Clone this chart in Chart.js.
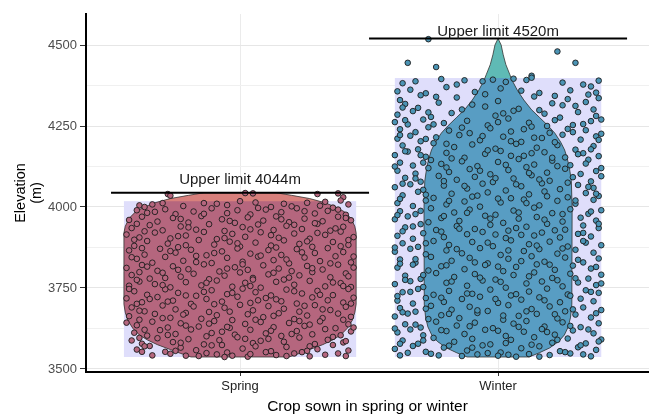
<!DOCTYPE html>
<html>
<head>
<meta charset="utf-8">
<script src="https://cdn.jsdelivr.net/npm/chart.js@4.4.1/dist/chart.umd.min.js"></script>
<style>
  body { margin: 0; background: #fff; }
  #wrap { width: 649px; height: 414px; }
</style>
</head>
<body>
<div id="wrap"><canvas id="grafik" width="649" height="414"></canvas></div>
<script>
// ======================
// DATA
// ======================

const categories = ["Spring", "Winter"];
const yTicks = [3500, 3625, 3750, 3875, 4000, 4125, 4250, 4375, 4500];
const upperLimits = [4044, 4520];
const limitLabelY = [4085, 4542];

// shaded box behind each violin
const boxTop = [4018, 4398];
const boxBottom = [3537, 3537];
const boxHalf = [0.45, 0.40];

// violin outline: elevation and half width
const springViolinY = [4044, 4036, 4026, 4013, 4000, 3985, 3965, 3940, 3920, 3800, 3700, 3675, 3650, 3625, 3605, 3590, 3575, 3560, 3548, 3537];
const springViolinW = [0.14, 0.20, 0.27, 0.33, 0.37, 0.405, 0.43, 0.445, 0.45, 0.45, 0.45, 0.445, 0.435, 0.415, 0.39, 0.36, 0.32, 0.27, 0.23, 0.19];
const winterViolinY = [4520, 4500, 4470, 4440, 4410, 4390, 4360, 4330, 4300, 4277, 4250, 4228, 4200, 4176, 4150, 4124, 4080, 4000, 3700, 3660, 3630, 3605, 3585, 3565, 3550, 3537];
const winterViolinW = [0.0, 0.012, 0.02, 0.03, 0.045, 0.055, 0.075, 0.10, 0.13, 0.16, 0.195, 0.22, 0.243, 0.258, 0.268, 0.276, 0.284, 0.287, 0.286, 0.281, 0.272, 0.257, 0.235, 0.2, 0.16, 0.12];

const springPoints = [
[0.72,4040],[0.73,4035],[1.02,4043],[1.05,4042],[1.30,4040],[1.38,4042],[1.40,4030],[1.39,4020],
[0.61,4005],[0.63,4000],[0.66,4008],[0.78,4003],[0.86,4012],[0.91,4010],[1.00,4018],[1.06,4014],[1.12,4000],[1.20,4002],[1.26,4013],[1.31,4004],[1.36,3998],[1.42,4008],
[0.60,3990],[0.64,3982],[0.71,3993],[0.75,3978],[0.82,3986],[0.89,3996],[0.95,3981],[0.99,3990],[1.04,3977],[1.10,3992],[1.16,3984],[1.22,3996],[1.29,3980],[1.34,3988],[1.41,3976],
[0.57,3960],[0.62,3970],[0.68,3955],[0.74,3966],[0.80,3952],[0.85,3972],[0.93,3962],[0.98,3951],[1.03,3968],[1.09,3958],[1.14,3971],[1.19,3953],[1.25,3964],[1.32,3956],[1.38,3970],[1.43,3959],
[0.58,3935],[0.65,3944],[0.70,3928],[0.77,3940],[0.83,3930],[0.88,3947],[0.94,3926],[1.01,3938],[1.07,3946],[1.13,3929],[1.18,3942],[1.24,3932],[1.30,3948],[1.35,3927],[1.40,3939],
[0.56,3915],[0.61,3906],[0.67,3921],[0.73,3903],[0.79,3912],[0.86,3923],[0.91,3901],[0.97,3917],[1.02,3908],[1.08,3922],[1.15,3905],[1.21,3918],[1.27,3902],[1.33,3914],[1.39,3924],[1.44,3907],
[0.59,3880],[0.64,3895],[0.72,3887],[0.76,3876],[0.84,3898],[0.90,3884],[0.96,3893],[1.00,3878],[1.06,3890],[1.12,3881],[1.17,3897],[1.23,3886],[1.28,3877],[1.36,3892],[1.42,3883],
[0.57,3866],[0.63,3853],[0.69,3871],[0.75,3859],[0.81,3868],[0.87,3851],[0.93,3863],[0.99,3872],[1.04,3856],[1.11,3867],[1.16,3852],[1.22,3870],[1.29,3858],[1.34,3873],[1.40,3861],
[0.60,3840],[0.66,3828],[0.71,3846],[0.78,3834],[0.83,3849],[0.89,3827],[0.95,3843],[1.01,3831],[1.07,3847],[1.13,3836],[1.19,3826],[1.25,3844],[1.31,3833],[1.37,3848],[1.43,3829],
[0.56,3812],[0.62,3821],[0.68,3803],[0.74,3817],[0.80,3808],[0.86,3823],[0.92,3801],[0.98,3814],[1.03,3806],[1.09,3820],[1.15,3810],[1.20,3802],[1.26,3818],[1.32,3807],[1.38,3822],[1.44,3813],
[0.58,3790],[0.65,3779],[0.70,3797],[0.77,3785],[0.82,3794],[0.88,3777],[0.94,3788],[1.00,3798],[1.05,3781],[1.11,3792],[1.17,3776],[1.23,3789],[1.28,3799],[1.35,3783],[1.41,3795],
[0.57,3757],[0.61,3770],[0.67,3762],[0.73,3752],[0.79,3768],[0.85,3758],[0.91,3773],[0.97,3754],[1.02,3766],[1.08,3751],[1.14,3769],[1.21,3760],[1.27,3772],[1.33,3755],[1.39,3765],[1.43,3753],
[0.59,3740],[0.64,3729],[0.71,3746],[0.76,3735],[0.83,3726],[0.89,3743],[0.95,3731],[1.01,3748],[1.06,3737],[1.12,3727],[1.18,3745],[1.24,3733],[1.30,3741],[1.36,3728],[1.42,3747],
[0.56,3718],[0.62,3706],[0.68,3722],[0.74,3711],[0.81,3701],[0.87,3716],[0.93,3708],[0.99,3723],[1.04,3704],[1.10,3719],[1.16,3709],[1.22,3702],[1.28,3721],[1.34,3712],[1.40,3705],[1.44,3720],
[0.58,3690],[0.63,3678],[0.70,3696],[0.75,3684],[0.82,3693],[0.88,3676],[0.94,3689],[1.00,3698],[1.05,3681],[1.11,3694],[1.17,3686],[1.23,3677],[1.29,3697],[1.35,3682],[1.41,3692],
[0.57,3663],[0.61,3652],[0.67,3670],[0.73,3658],[0.79,3673],[0.85,3655],[0.91,3666],[0.97,3651],[1.03,3669],[1.09,3660],[1.15,3672],[1.21,3654],[1.26,3665],[1.32,3657],[1.38,3671],[1.43,3661],
[0.60,3635],[0.66,3646],[0.72,3628],[0.77,3641],[0.84,3631],[0.90,3648],[0.96,3627],[1.02,3639],[1.08,3645],[1.13,3629],[1.19,3642],[1.25,3633],[1.31,3647],[1.37,3626],[1.42,3638],
[0.59,3612],[0.64,3603],[0.69,3620],[0.75,3608],[0.81,3622],[0.87,3601],[0.93,3615],[0.98,3606],[1.04,3621],[1.10,3610],[1.16,3602],[1.22,3617],[1.28,3607],[1.33,3623],[1.39,3604],[1.43,3616],
[0.58,3588],[0.62,3578],[0.68,3595],[0.74,3583],[0.80,3592],[0.86,3576],[0.92,3589],[0.99,3598],[1.05,3580],[1.11,3593],[1.17,3584],[1.23,3597],[1.29,3577],[1.34,3590],[1.40,3582],
[0.60,3560],[0.65,3571],[0.71,3553],[0.77,3566],[0.83,3558],[0.89,3573],[0.95,3551],[1.01,3563],[1.06,3570],[1.12,3555],[1.18,3568],[1.24,3552],[1.30,3561],[1.36,3574],[1.42,3557],
[0.66,3542],[0.73,3547],[0.84,3540],[0.91,3545],[0.97,3541],[1.03,3538],[1.04,3546],[1.14,3543],[1.21,3548],[1.27,3539],[1.33,3544],[1.41,3540],
[0.70,4012],[0.95,4006],[1.17,4010],[1.33,4016],
[0.67,3985],[0.86,3979],[1.07,3997],[1.25,3987],[1.38,3992],
[0.60,3948],[0.77,3963],[0.96,3957],[1.16,3962],[1.29,3950],[1.41,3966],
[0.63,3925],[0.80,3937],[1.04,3931],[1.21,3945],[1.37,3934],
[0.59,3899],[0.76,3910],[0.94,3904],[1.12,3913],[1.30,3920],[1.42,3898],
[0.62,3873],[0.79,3882],[0.99,3888],[1.14,3875],[1.26,3894],[1.39,3879],
[0.58,3845],[0.73,3864],[0.90,3858],[1.08,3850],[1.24,3860],[1.44,3847],
[0.64,3816],[0.83,3830],[1.01,3823],[1.18,3838],[1.35,3826],
[0.61,3799],[0.76,3806],[0.95,3810],[1.13,3797],[1.28,3811],[1.42,3786],
[0.60,3775],[0.71,3781],[0.87,3766],[1.05,3776],[1.19,3782],[1.36,3767],
[0.57,3747],[0.70,3759],[0.86,3738],[1.04,3756],[1.21,3740],[1.40,3756],
[0.65,3716],[0.79,3727],[0.97,3735],[1.14,3715],[1.31,3729],
[0.60,3701],[0.72,3708],[0.90,3700],[1.07,3712],[1.25,3695],[1.43,3702],
[0.61,3680],[0.78,3668],[0.96,3677],[1.13,3664],[1.32,3684],
[0.56,3643],[0.70,3657],[0.88,3640],[1.06,3652],[1.23,3648],[1.40,3652],
[0.63,3621],[0.79,3634],[0.95,3630],[1.12,3618],[1.27,3637],[1.44,3628],
[0.61,3596],[0.72,3605],[0.89,3611],[1.02,3593],[1.20,3608],[1.36,3599],
[0.63,3570],[0.77,3581],[0.93,3574],[1.08,3587],[1.27,3570],[1.41,3586],
[0.62,3553],[0.75,3556],[0.87,3549],[1.10,3552],[1.26,3556],[1.38,3548],
[0.79,3541],[0.94,3537],[1.18,3540]
];

const winterPoints = [
[1.73,4518],[1.65,4445],[1.76,4432],[2.23,4480],[2.30,4445],[2.13,4405],
[1.63,4382],[1.78,4395],[1.87,4391],[1.94,4388],[1.98,4393],[2.03,4386],[2.11,4392],[2.13,4399],[2.33,4378],[2.39,4390],
[1.66,4362],[1.80,4370],[1.91,4355],[2.01,4366],[2.16,4352],[2.28,4360],[2.36,4372],[1.72,4351],
[1.62,4330],[1.70,4345],[1.84,4338],[2.00,4327],[2.14,4341],[2.27,4333],[2.35,4347],[2.39,4336],
[1.64,4318],[1.69,4306],[1.77,4322],[1.95,4310],[2.08,4303],[2.21,4320],[2.30,4312],[2.37,4301],[1.86,4301],
[1.61,4285],[1.67,4296],[1.74,4278],[1.82,4290],[1.99,4282],[2.06,4297],[2.18,4288],[2.24,4276],[2.31,4293],[2.38,4281],
[1.60,4262],[1.65,4255],[1.71,4270],[1.79,4259],[1.88,4266],[1.96,4252],[2.04,4273],[2.12,4260],[2.22,4268],[2.29,4253],[2.36,4265],
[1.62,4240],[1.68,4231],[1.73,4246],[1.81,4236],[1.89,4228],[1.97,4243],[2.05,4233],[2.13,4248],[2.20,4229],[2.27,4241],[2.34,4237],[2.40,4226],
[1.61,4211],[1.66,4220],[1.70,4203],[1.76,4215],[1.85,4222],[1.93,4206],[2.02,4217],[2.09,4201],[2.17,4213],[2.25,4223],[2.32,4208],[2.38,4218],
[1.63,4190],[1.69,4178],[1.75,4197],[1.83,4185],[1.90,4193],[1.99,4180],[2.07,4195],[2.15,4183],[2.23,4191],[2.30,4177],[2.37,4188],
[1.60,4160],[1.65,4171],[1.72,4155],[1.80,4167],[1.87,4152],[1.95,4164],[2.01,4173],[2.10,4158],[2.18,4169],[2.26,4153],[2.33,4166],[2.39,4157],
[1.62,4137],[1.67,4128],[1.74,4145],[1.78,4133],[1.86,4141],[1.92,4126],[2.00,4139],[2.08,4148],[2.14,4131],[2.21,4143],[2.28,4129],[2.35,4146],
[1.61,4112],[1.68,4103],[1.73,4120],[1.81,4108],[1.89,4117],[1.97,4101],[2.04,4114],[2.11,4123],[2.19,4106],[2.26,4118],[2.32,4102],[2.38,4111],
[1.64,4090],[1.70,4078],[1.77,4096],[1.84,4084],[1.91,4093],[1.98,4077],[2.06,4088],[2.13,4098],[2.20,4081],[2.29,4092],[2.36,4079],[2.40,4095],
[1.60,4061],[1.66,4070],[1.71,4053],[1.79,4066],[1.88,4057],[1.94,4072],[2.03,4051],[2.09,4064],[2.17,4073],[2.24,4055],[2.31,4068],[2.37,4059],
[1.63,4036],[1.69,4047],[1.75,4028],[1.82,4041],[1.90,4032],[1.96,4045],[2.05,4027],[2.12,4039],[2.18,4048],[2.27,4030],[2.34,4043],[2.39,4034],
[1.61,4012],[1.67,4003],[1.72,4020],[1.80,4008],[1.87,4017],[1.93,4001],[2.01,4014],[2.10,4023],[2.16,4005],[2.23,4019],[2.30,4010],[2.37,4022],
[1.62,3987],[1.68,3978],[1.74,3996],[1.83,3983],[1.89,3992],[1.99,3976],[2.06,3989],[2.14,3998],[2.21,3981],[2.28,3993],[2.35,3979],[2.40,3990],
[1.60,3962],[1.65,3971],[1.73,3953],[1.78,3966],[1.85,3957],[1.95,3973],[2.02,3951],[2.08,3964],[2.15,3969],[2.25,3955],[2.32,3967],[2.38,3958],
[1.64,3937],[1.70,3947],[1.76,3929],[1.84,3941],[1.91,3932],[1.97,3945],[2.04,3927],[2.11,3939],[2.19,3948],[2.26,3930],[2.33,3943],[2.39,3935],
[1.61,3911],[1.67,3902],[1.71,3919],[1.79,3907],[1.88,3916],[1.94,3923],[2.03,3904],[2.09,3914],[2.17,3921],[2.24,3906],[2.31,3917],[2.36,3909],
[1.63,3888],[1.69,3877],[1.75,3895],[1.81,3883],[1.90,3892],[1.98,3879],[2.05,3897],[2.12,3885],[2.20,3893],[2.27,3878],[2.34,3890],[2.40,3882],
[1.60,3862],[1.66,3871],[1.72,3854],[1.80,3866],[1.86,3857],[1.93,3873],[2.01,3852],[2.10,3864],[2.16,3870],[2.23,3856],[2.30,3868],[2.37,3859],
[1.62,3838],[1.68,3828],[1.74,3846],[1.82,3834],[1.89,3843],[1.96,3826],[2.04,3840],[2.13,3848],[2.18,3831],[2.26,3844],[2.33,3829],[2.39,3841],
[1.61,3813],[1.67,3822],[1.73,3804],[1.78,3817],[1.87,3808],[1.95,3821],[2.02,3802],[2.07,3815],[2.15,3823],[2.22,3806],[2.29,3819],[2.36,3810],
[1.64,3788],[1.70,3778],[1.76,3796],[1.83,3784],[1.91,3793],[1.99,3776],[2.06,3790],[2.14,3798],[2.21,3781],[2.28,3794],[2.35,3779],[2.40,3791],
[1.60,3762],[1.66,3771],[1.71,3753],[1.80,3766],[1.88,3757],[1.94,3773],[2.03,3751],[2.11,3764],[2.17,3770],[2.25,3755],[2.31,3767],[2.38,3759],
[1.63,3737],[1.69,3747],[1.75,3729],[1.81,3741],[1.90,3732],[1.97,3745],[2.05,3727],[2.12,3739],[2.19,3748],[2.27,3730],[2.34,3743],[2.39,3735],
[1.61,3711],[1.67,3702],[1.72,3719],[1.79,3707],[1.86,3716],[1.93,3723],[2.00,3704],[2.09,3714],[2.16,3721],[2.24,3706],[2.32,3717],[2.37,3709],
[1.62,3688],[1.68,3677],[1.74,3695],[1.82,3683],[1.89,3692],[1.96,3679],[2.04,3697],[2.13,3685],[2.20,3693],[2.26,3678],[2.33,3690],[2.40,3682],
[1.60,3662],[1.65,3671],[1.73,3654],[1.78,3666],[1.85,3657],[1.92,3673],[2.02,3652],[2.08,3664],[2.15,3670],[2.23,3656],[2.30,3668],[2.36,3659],
[1.64,3638],[1.70,3628],[1.76,3646],[1.84,3634],[1.91,3643],[1.98,3626],[2.06,3640],[2.11,3648],[2.18,3631],[2.25,3644],[2.32,3629],[2.39,3641],
[1.61,3613],[1.66,3622],[1.71,3604],[1.80,3617],[1.87,3608],[1.95,3621],[2.03,3602],[2.10,3615],[2.17,3623],[2.22,3606],[2.29,3619],[2.37,3610],
[1.63,3588],[1.69,3578],[1.75,3596],[1.83,3584],[1.90,3593],[1.97,3576],[2.05,3590],[2.14,3598],[2.21,3581],[2.27,3594],[2.34,3579],[2.40,3591],
[1.60,3562],[1.67,3571],[1.72,3553],[1.79,3566],[1.88,3557],[1.94,3573],[2.01,3551],[2.09,3564],[2.16,3570],[2.24,3555],[2.31,3567],[2.38,3559],
[1.62,3542],[1.74,3547],[1.86,3540],[1.92,3545],[2.00,3541],[2.07,3538],[2.12,3546],[2.20,3543],[2.28,3548],[2.36,3539],
[1.68,4388],[1.84,4378],[2.06,4396],[2.25,4384],
[1.61,4357],[1.76,4340],[1.95,4348],[2.09,4359],[2.22,4343],[2.38,4353],
[1.63,4307],[1.73,4292],[1.90,4316],[2.02,4289],[2.16,4299],[2.25,4314],[2.34,4324],
[1.64,4268],[1.75,4255],[1.86,4245],[2.00,4262],[2.10,4240],[2.19,4250],[2.33,4256],[2.40,4270],
[1.62,4222],[1.72,4210],[1.80,4195],[1.94,4219],[2.05,4203],[2.14,4214],[2.22,4200],[2.29,4231],[2.39,4207],
[1.64,4172],[1.70,4160],[1.82,4150],[1.96,4175],[2.05,4158],[2.13,4166],[2.21,4152],[2.31,4163],[2.36,4178],
[1.60,4125],[1.71,4137],[1.80,4122],[1.93,4112],[2.03,4130],[2.12,4105],[2.23,4126],[2.34,4134],[2.40,4120],
[1.63,4072],[1.68,4088],[1.79,4080],[1.87,4065],[1.99,4089],[2.07,4070],[2.16,4085],[2.27,4075],[2.35,4062],
[1.62,4025],[1.72,4038],[1.81,4019],[1.92,4035],[2.00,4026],[2.11,4012],[2.19,4033],[2.30,4020],[2.38,4041],
[1.61,3975],[1.70,3988],[1.79,3972],[1.88,3982],[1.97,3964],[2.08,3983],[2.18,3961],[2.25,3978],[2.36,3986],
[1.63,3925],[1.67,3940],[1.78,3924],[1.85,3933],[1.99,3915],[2.07,3935],[2.14,3912],[2.22,3928],[2.33,3920],[2.39,3948],
[1.60,3875],[1.72,3888],[1.84,3870],[1.96,3890],[2.04,3866],[2.15,3881],[2.25,3872],[2.33,3895],
[1.62,3825],[1.68,3839],[1.80,3820],[1.91,3829],[2.00,3816],[2.09,3833],[2.20,3822],[2.31,3837],[2.38,3815],
[1.64,3775],[1.71,3790],[1.82,3770],[1.93,3782],[2.01,3769],[2.12,3786],[2.23,3774],[2.30,3780],[2.40,3764],
[1.61,3725],[1.66,3738],[1.78,3720],[1.88,3733],[1.99,3716],[2.07,3731],[2.18,3712],[2.28,3726],[2.36,3738],
[1.63,3675],[1.72,3686],[1.81,3670],[1.92,3681],[2.02,3665],[2.11,3678],[2.22,3669],[2.29,3684],[2.38,3672],
[1.60,3625],[1.68,3637],[1.78,3620],[1.89,3632],[2.00,3618],[2.08,3630],[2.19,3614],[2.28,3633],[2.35,3622],
[1.62,3578],[1.71,3588],[1.81,3572],[1.90,3566],[2.03,3580],[2.13,3575],[2.23,3590],[2.32,3573],[2.39,3585],
[1.65,3550],[1.77,3542],[1.96,3549],[2.04,3544],[2.16,3538],[2.26,3552],[2.33,3545]
];

// ======================
// WARNA
// ======================

const boxColor = "#dfdefb";
const violinOut = ["#d8807c", "#5fbab5"];
const violinIn = ["#b5667e", "#589dc3"];
const pointFill = ["#b5667e", "#4b94b5"];
const fontFam = "'Liberation Sans', Arial, sans-serif";

// violin + box drawn with the chart's own scales
const violinPlugin = {
    id: "violins",
    beforeDatasetsDraw(chart) {
        const { ctx, chartArea, scales } = chart;
        const x = scales.x, y = scales.y;
        const profiles = [[springViolinY, springViolinW], [winterViolinY, winterViolinW]];

        ctx.save();
        ctx.beginPath();
        ctx.rect(chartArea.left, chartArea.top, chartArea.width, chartArea.height);
        ctx.clip();

        categories.forEach((cat, i) => {
            const c = i + 1;
            const bx0 = x.getPixelForValue(c - boxHalf[i]);
            const bx1 = x.getPixelForValue(c + boxHalf[i]);
            const by0 = y.getPixelForValue(boxTop[i]);
            const by1 = y.getPixelForValue(boxBottom[i]);
            ctx.fillStyle = boxColor;
            ctx.fillRect(bx0, by0, bx1 - bx0, by1 - by0);

            const [vy, vw] = profiles[i];
            const path = new Path2D();
            for (let k = 0; k < vy.length; k++) {
                const px = x.getPixelForValue(c + vw[k]);
                const py = y.getPixelForValue(vy[k]);
                if (k === 0) path.moveTo(px, py); else path.lineTo(px, py);
            }
            for (let k = vy.length - 1; k >= 0; k--) {
                path.lineTo(x.getPixelForValue(c - vw[k]), y.getPixelForValue(vy[k]));
            }
            path.closePath();

            ctx.fillStyle = violinOut[i];
            ctx.fill(path);
            ctx.save();
            ctx.beginPath();
            ctx.rect(bx0, by0, bx1 - bx0, by1 - by0);
            ctx.clip();
            ctx.fillStyle = violinIn[i];
            ctx.fill(path);
            ctx.restore();
            ctx.strokeStyle = "#333";
            ctx.lineWidth = 0.8;
            ctx.stroke(path);
        });
        ctx.restore();
    },
    afterDatasetsDraw(chart) {
        const { ctx, scales } = chart;
        ctx.save();
        ctx.fillStyle = "#1a1a1a";
        ctx.font = "15px " + fontFam;
        ctx.textAlign = "center";
        ctx.textBaseline = "middle";
        upperLimits.forEach((v, i) => {
            ctx.fillText("Upper limit " + v + "m", scales.x.getPixelForValue(i + 1), scales.y.getPixelForValue(limitLabelY[i]));
        });
        ctx.restore();
    }
};

// ======================
// GRAFIK
// ======================

const datasets = [];
upperLimits.forEach((v, i) => {
    datasets.push({
        type: "line",
        data: [{ x: i + 0.5, y: v }, { x: i + 1.5, y: v }],
        borderColor: "#000",
        borderWidth: 2,
        pointRadius: 0,
        fill: false
    });
});
[springPoints, winterPoints].forEach((pts, i) => {
    datasets.push({
        type: "scatter",
        data: pts.map(p => ({ x: p[0], y: p[1] })),
        backgroundColor: pointFill[i],
        borderColor: "#1c1c1c",
        borderWidth: 0.9,
        pointRadius: 2.8
    });
});

new Chart(document.getElementById("grafik"), {
    type: "scatter",
    data: { datasets: datasets },
    plugins: [violinPlugin],
    options: {
        responsive: false,
        animation: false,
        devicePixelRatio: 1,
        layout: { autoPadding: false, padding: { top: 14, right: 0, left: 0, bottom: 0 } },
        plugins: { legend: { display: false }, tooltip: { enabled: false } },
        scales: {
            x: {
                type: "linear",
                min: 0.403,
                max: 2.585,
                afterBuildTicks: s => { s.ticks = categories.map((c, i) => ({ value: i + 1 })); },
                afterFit: s => { s.height = 42; },
                ticks: {
                    callback: v => categories[v - 1],
                    color: "#222",
                    font: { family: fontFam, size: 13 },
                    padding: 3,
                    autoSkip: false,
                    maxRotation: 0
                },
                grid: { color: "#ebebeb", lineWidth: 1, tickLength: 4, tickColor: "#333" },
                border: { color: "#000", width: 2 },
                title: {
                    display: true,
                    text: "Crop sown in spring or winter",
                    color: "#000",
                    font: { family: fontFam, size: 15.5, lineHeight: 1 },
                    padding: { top: 0, bottom: 0 }
                }
            },
            y: {
                min: 3490.7,
                max: 4595.7,
                afterBuildTicks: s => { s.ticks = yTicks.map(v => ({ value: v })); },
                afterFit: s => { s.width = 86; },
                ticks: {
                    callback: v => (v % 250 === 0 ? v : ""),
                    color: "#4d4d4d",
                    font: { family: fontFam, size: 13 },
                    padding: 3
                },
                grid: {
                    color: c => (c.tick && c.tick.value % 250 === 0 ? "#e6e6e6" : "#f0f0f0"),
                    lineWidth: 1,
                    tickLength: 6,
                    tickColor: c => (c.tick && c.tick.value % 250 === 0 ? "#333" : "rgba(0,0,0,0)")
                },
                border: { color: "#000", width: 2 },
                title: {
                    display: true,
                    text: ["Elevation", "(m)"],
                    color: "#000",
                    font: { family: fontFam, size: 14.5, lineHeight: 1.1 },
                    padding: { top: 13, bottom: 0 }
                }
            }
        }
    }
});
</script>
</body>
</html>
